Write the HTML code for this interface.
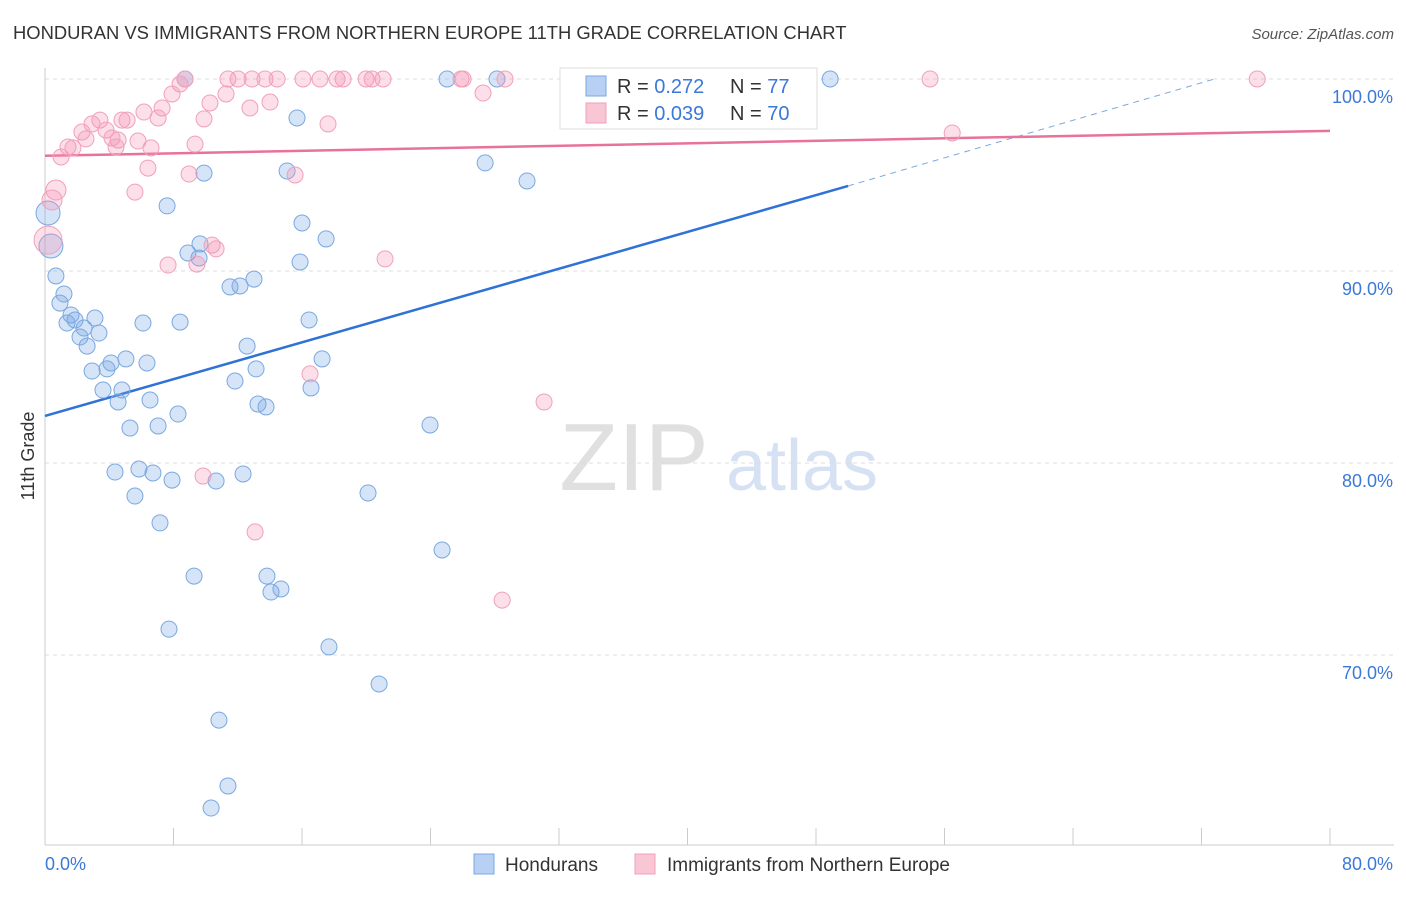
<!DOCTYPE html>
<html><head><meta charset="utf-8"><style>
body{margin:0;background:#fff;font-family:"Liberation Sans",sans-serif;}
svg text{font-family:"Liberation Sans",sans-serif;}
</style></head><body>
<svg id="chart" width="1406" height="892" viewBox="0 0 1406 892" xmlns="http://www.w3.org/2000/svg">
<text x="13" y="39" font-size="18.4" fill="#333">HONDURAN VS IMMIGRANTS FROM NORTHERN EUROPE 11TH GRADE CORRELATION CHART</text>
<text x="1394" y="39" font-size="15" fill="#555" text-anchor="end" font-style="italic">Source: ZipAtlas.com</text>
<g>
<text x="634" y="490" font-size="96" fill="#e0e0e0" font-family="Liberation Serif" text-anchor="middle">ZIP</text>
<text x="802" y="490" font-size="72" fill="#d6e2f3" text-anchor="middle">atlas</text>
</g>
<g id="grid"></g>
<g id="axes"></g>
<g id="lines"></g>
<g id="points"></g>
<text transform="translate(34,456) rotate(-90)" font-size="18" fill="#333" text-anchor="middle">11th Grade</text>
<g>
<rect x="560" y="68" width="257" height="61" fill="#fff" stroke="#ddd"/>
<rect x="586" y="76" width="20" height="20" fill="#b8d0f4" stroke="#7aa8e0"/>
<rect x="586" y="103" width="20" height="20" fill="#f9c6d4" stroke="#f0a0bb"/>
<text x="617" y="93" font-size="20" fill="#333">R = <tspan fill="#3b78d8">0.272</tspan></text>
<text x="730" y="93" font-size="20" fill="#333">N = <tspan fill="#3b78d8">77</tspan></text>
<text x="617" y="120" font-size="20" fill="#333">R = <tspan fill="#3b78d8">0.039</tspan></text>
<text x="730" y="120" font-size="20" fill="#333">N = <tspan fill="#3b78d8">70</tspan></text>
</g>
<g>
<rect x="474" y="854" width="20" height="20" fill="#b8d0f4" stroke="#7aa8e0"/>
<text x="505" y="871" font-size="19" fill="#333">Hondurans</text>
<rect x="635" y="854" width="20" height="20" fill="#f9c6d4" stroke="#f0a0bb"/>
<text x="667" y="871" font-size="19" fill="#333">Immigrants from Northern Europe</text>
</g>
</svg>
<script>
const yTicks=[100,90,80,70];
const yTickLabels=["100.0%","90.0%","80.0%","70.0%"];
const xTicks=[0,8,16,24,32,40,48,56,64,72,80];
const xEndLabels=["0.0%","80.0%"];
const blueX=[8.72,25.03,28.14,41.53,48.88,15.69,27.40,30.01,9.90,15.07,7.60,0.19,0.37,16.00,17.50,8.90,9.65,9.59,15.88,0.68,13.01,11.52,12.14,1.18,0.93,1.62,1.87,1.37,3.11,6.10,8.41,16.44,2.43,2.18,3.36,2.62,12.58,5.04,4.11,6.35,17.25,2.93,3.86,13.14,11.83,3.61,4.79,16.56,4.55,6.54,13.26,13.76,8.28,5.29,7.04,23.97,4.36,5.85,6.72,7.91,12.33,10.65,5.60,20.11,7.16,24.72,9.28,13.82,14.07,14.69,7.72,17.68,20.80,10.83,11.39,10.34];
const blueY=[100,100,100,100,100,97.97,95.63,94.69,95.10,95.21,93.39,93.02,91.30,92.5,91.67,90.94,91.41,90.68,90.47,89.74,89.58,89.17,89.22,88.80,88.33,87.71,87.45,87.29,87.55,87.29,87.34,87.45,87.03,86.56,86.77,86.09,86.09,85.42,85.21,85.21,85.42,84.79,84.90,84.90,84.27,83.80,83.80,83.91,83.18,83.28,83.07,82.92,82.55,81.82,81.93,81.98,79.53,79.69,79.48,79.11,79.43,79.06,78.28,78.44,76.88,75.47,74.11,74.11,73.28,73.44,71.35,70.42,68.49,66.61,63.18,62.03];
const pinkX=[8.72,11.39,12.02,12.89,13.70,14.45,16.06,17.12,18.18,18.56,19.99,20.36,21.05,25.90,26.03,28.64,33.0,55.1,75.47,8.41,7.91,27.27,10.27,14.01,11.27,7.29,12.76,6.16,7.04,9.90,4.79,3.42,2.93,5.11,3.80,2.30,2.55,4.55,5.79,4.17,1.43,1.74,4.42,6.60,9.34,56.48,17.62,1.0,6.41,8.97,15.57,5.60,0.68,0.44,10.40,10.65,7.66,9.46,21.17,16.50,31.07,9.84,13.08,28.46,0.19];
const pinkY=[100,100,100,100,100,100,100,100,100,100,100,100,100,100,100,100,100,100,100,99.74,99.22,99.27,98.75,98.80,99.22,98.49,98.49,98.28,97.97,97.92,97.86,97.86,97.66,97.86,97.34,97.24,96.88,96.82,96.77,96.93,96.46,96.41,96.46,96.41,96.61,97.19,97.66,95.94,95.36,95.05,95.0,94.11,94.22,93.70,91.35,91.15,90.31,90.36,90.63,84.64,83.18,79.32,76.41,72.86,91.61];
const bigPinkIdx=[64,52,53];
const trendBlue=[0,82.45,50,94.43,72.8,100];
const trendPink=[0,96.0,80,97.3];
const NS='http://www.w3.org/2000/svg';
const sx=v=>45+v*1285/80;
const sy=v=>79+(100-v)*19.2;
function mk(tag,attrs,parent){const e=document.createElementNS(NS,tag);for(const k in attrs)e.setAttribute(k,attrs[k]);document.getElementById(parent).appendChild(e);return e;}
yTicks.forEach((t,i)=>{
 const l=mk('line',{x1:45,x2:1394,y1:sy(t),y2:sy(t),stroke:'#ddd','stroke-dasharray':'4,4'},'grid');
 
 
 const tx=mk('text',{x:1393,y:sy(t)+24,'font-size':18,fill:'#3b78d8','text-anchor':'end'},'axes');
 tx.textContent=yTickLabels[i];
 
 
});
const ax=mk('line',{x1:45,x2:1394,y1:845,y2:845,stroke:'#ccc'},'axes');


const ay=mk('line',{x1:45,x2:45,y1:68,y2:845,stroke:'#ccc'},'axes');


xTicks.forEach(t=>{
 const l=mk('line',{x1:sx(t),x2:sx(t),y1:828,y2:845,stroke:'#ccc'},'axes');
 
 
});
const xl0=mk('text',{x:45,y:870,'font-size':18,fill:'#3b78d8'},'axes');xl0.textContent=xEndLabels[0];


const xl1=mk('text',{x:1393,y:870,'font-size':18,fill:'#3b78d8','text-anchor':'end'},'axes');xl1.textContent=xEndLabels[1];


function dot(x,y,r,fill,stroke,name){
 const c=mk('circle',{cx:sx(x),cy:sy(y),r:r,fill:fill,stroke:stroke,'stroke-width':1},'points');
 
 
}
blueX.forEach((x,i)=>dot(x,blueY[i],(i==11||i==12)?12:8,'rgba(120,165,230,0.3)','#7aa8e0','honduran-point'));
pinkX.forEach((x,i)=>dot(x,pinkY[i],bigPinkIdx.includes(i)?(i==64?14:10):8,'rgba(245,150,180,0.3)','#f0a0bb','immigrant-point'));
const bl=mk('line',{x1:sx(trendBlue[0]),y1:sy(trendBlue[1]),x2:sx(trendBlue[2]),y2:sy(trendBlue[3]),stroke:'#2f72d6','stroke-width':2.5},'lines');


const bd=mk('line',{x1:sx(trendBlue[2]),y1:sy(trendBlue[3]),x2:sx(trendBlue[4]),y2:sy(trendBlue[5]),stroke:'#7aa8e0','stroke-width':1,'stroke-dasharray':'6,5'},'lines');


const pl=mk('line',{x1:sx(trendPink[0]),y1:sy(trendPink[1]),x2:sx(trendPink[2]),y2:sy(trendPink[3]),stroke:'#e8729a','stroke-width':2.5},'lines');


</script>
</body></html>
